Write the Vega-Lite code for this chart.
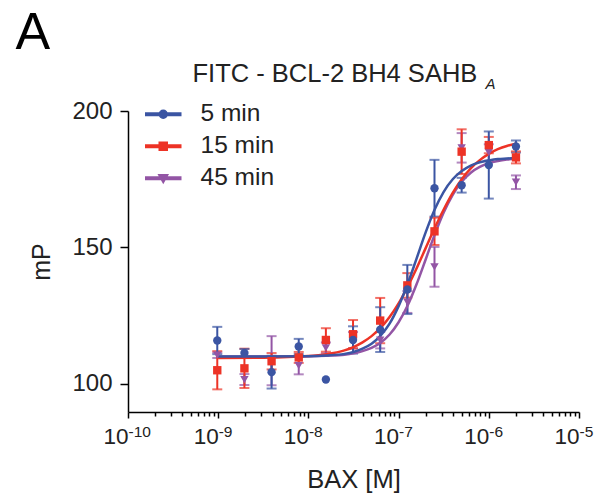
{
  "$schema": "https://vega.github.io/schema/vega-lite/v6.json",
  "autosize": {"type": "none"},
  "padding": {"left": 128, "top": 111, "right": 23, "bottom": 88},
  "width": 451,
  "height": 301,
  "background": "white",
  "datasets": {
    "curves": [
      {"series": "45 min", "conc": 1e-9, "mP": 110.0},
      {"series": "45 min", "conc": 3.162e-9, "mP": 110.0},
      {"series": "45 min", "conc": 1e-8, "mP": 110.1},
      {"series": "45 min", "conc": 1.585e-8, "mP": 110.3},
      {"series": "45 min", "conc": 2.512e-8, "mP": 110.7},
      {"series": "45 min", "conc": 3.162e-8, "mP": 111.2},
      {"series": "45 min", "conc": 3.981e-8, "mP": 112.0},
      {"series": "45 min", "conc": 5.012e-8, "mP": 113.2},
      {"series": "45 min", "conc": 6.31e-8, "mP": 115.1},
      {"series": "45 min", "conc": 7.943e-8, "mP": 118.1},
      {"series": "45 min", "conc": 1e-7, "mP": 122.6},
      {"series": "45 min", "conc": 1.259e-7, "mP": 128.7},
      {"series": "45 min", "conc": 1.585e-7, "mP": 136.6},
      {"series": "45 min", "conc": 1.995e-7, "mP": 145.6},
      {"series": "45 min", "conc": 2.512e-7, "mP": 154.7},
      {"series": "45 min", "conc": 3.162e-7, "mP": 162.8},
      {"series": "45 min", "conc": 3.981e-7, "mP": 169.3},
      {"series": "45 min", "conc": 5.012e-7, "mP": 174.1},
      {"series": "45 min", "conc": 6.31e-7, "mP": 177.4},
      {"series": "45 min", "conc": 7.943e-7, "mP": 179.5},
      {"series": "45 min", "conc": 1e-6, "mP": 180.9},
      {"series": "45 min", "conc": 1.259e-6, "mP": 181.7},
      {"series": "45 min", "conc": 1.585e-6, "mP": 182.2},
      {"series": "45 min", "conc": 1.995e-6, "mP": 182.5},
      {"series": "15 min", "conc": 1e-9, "mP": 109.5},
      {"series": "15 min", "conc": 3.162e-9, "mP": 109.6},
      {"series": "15 min", "conc": 1e-8, "mP": 110.2},
      {"series": "15 min", "conc": 1.585e-8, "mP": 110.9},
      {"series": "15 min", "conc": 2.512e-8, "mP": 112.3},
      {"series": "15 min", "conc": 3.162e-8, "mP": 113.5},
      {"series": "15 min", "conc": 3.981e-8, "mP": 115.2},
      {"series": "15 min", "conc": 5.012e-8, "mP": 117.5},
      {"series": "15 min", "conc": 6.31e-8, "mP": 120.5},
      {"series": "15 min", "conc": 7.943e-8, "mP": 124.5},
      {"series": "15 min", "conc": 1e-7, "mP": 129.5},
      {"series": "15 min", "conc": 1.259e-7, "mP": 135.6},
      {"series": "15 min", "conc": 1.585e-7, "mP": 142.4},
      {"series": "15 min", "conc": 1.995e-7, "mP": 149.75},
      {"series": "15 min", "conc": 2.512e-7, "mP": 157.1},
      {"series": "15 min", "conc": 3.162e-7, "mP": 163.9},
      {"series": "15 min", "conc": 3.981e-7, "mP": 170.0},
      {"series": "15 min", "conc": 5.012e-7, "mP": 175.0},
      {"series": "15 min", "conc": 6.31e-7, "mP": 179.0},
      {"series": "15 min", "conc": 7.943e-7, "mP": 182.0},
      {"series": "15 min", "conc": 1e-6, "mP": 184.3},
      {"series": "15 min", "conc": 1.259e-6, "mP": 186.0},
      {"series": "15 min", "conc": 1.585e-6, "mP": 187.2},
      {"series": "15 min", "conc": 1.995e-6, "mP": 188.0},
      {"series": "5 min", "conc": 1e-9, "mP": 110.0},
      {"series": "5 min", "conc": 3.162e-9, "mP": 110.0},
      {"series": "5 min", "conc": 1e-8, "mP": 110.1},
      {"series": "5 min", "conc": 1.585e-8, "mP": 110.4},
      {"series": "5 min", "conc": 2.512e-8, "mP": 111.0},
      {"series": "5 min", "conc": 3.162e-8, "mP": 111.7},
      {"series": "5 min", "conc": 3.981e-8, "mP": 112.9},
      {"series": "5 min", "conc": 5.012e-8, "mP": 114.7},
      {"series": "5 min", "conc": 6.31e-8, "mP": 117.7},
      {"series": "5 min", "conc": 7.943e-8, "mP": 122.1},
      {"series": "5 min", "conc": 1e-7, "mP": 128.5},
      {"series": "5 min", "conc": 1.259e-7, "mP": 136.6},
      {"series": "5 min", "conc": 1.585e-7, "mP": 146.0},
      {"series": "5 min", "conc": 1.995e-7, "mP": 155.5},
      {"series": "5 min", "conc": 2.512e-7, "mP": 163.9},
      {"series": "5 min", "conc": 3.162e-7, "mP": 170.4},
      {"series": "5 min", "conc": 3.981e-7, "mP": 175.0},
      {"series": "5 min", "conc": 5.012e-7, "mP": 178.0},
      {"series": "5 min", "conc": 6.31e-7, "mP": 180.0},
      {"series": "5 min", "conc": 7.943e-7, "mP": 181.2},
      {"series": "5 min", "conc": 1e-6, "mP": 181.9},
      {"series": "5 min", "conc": 1.259e-6, "mP": 182.4},
      {"series": "5 min", "conc": 1.585e-6, "mP": 182.6},
      {"series": "5 min", "conc": 1.995e-6, "mP": 182.8}
    ],
    "points": [
      {"series": "45 min", "conc": 9.765625e-10, "mP": 110.5, "err": 1},
      {"series": "45 min", "conc": 1.953125e-9, "mP": 101.6, "err": 2},
      {"series": "45 min", "conc": 3.90625e-9, "mP": 108.5, "err": 9},
      {"series": "45 min", "conc": 7.8125e-9, "mP": 106.7, "err": 3.2},
      {"series": "45 min", "conc": 1.5625e-8, "mP": 113.2, "err": 2},
      {"series": "45 min", "conc": 3.125e-8, "mP": 116, "err": 3},
      {"series": "45 min", "conc": 6.25e-8, "mP": 116, "err": 3},
      {"series": "45 min", "conc": 1.25e-7, "mP": 130, "err": 4},
      {"series": "45 min", "conc": 2.5e-7, "mP": 142.9, "err": 7.3},
      {"series": "45 min", "conc": 5e-7, "mP": 186.5, "err": 5.4},
      {"series": "45 min", "conc": 1e-6, "mP": 184.8, "err": 3},
      {"series": "45 min", "conc": 2e-6, "mP": 173.9, "err": 2.5},
      {"series": "15 min", "conc": 9.765625e-10, "mP": 105.0, "err": 7},
      {"series": "15 min", "conc": 1.953125e-9, "mP": 105.7, "err": 7.2},
      {"series": "15 min", "conc": 3.90625e-9, "mP": 108.3, "err": 3},
      {"series": "15 min", "conc": 7.8125e-9, "mP": 109.7, "err": 2},
      {"series": "15 min", "conc": 1.5625e-8, "mP": 116.1, "err": 4.3},
      {"series": "15 min", "conc": 3.125e-8, "mP": 118.2, "err": 5.2},
      {"series": "15 min", "conc": 6.25e-8, "mP": 123.2, "err": 8.3},
      {"series": "15 min", "conc": 1.25e-7, "mP": 136.1, "err": 4.5},
      {"series": "15 min", "conc": 2.5e-7, "mP": 155.9, "err": 5},
      {"series": "15 min", "conc": 5e-7, "mP": 185.1, "err": 8.2},
      {"series": "15 min", "conc": 1e-6, "mP": 187.5, "err": 3},
      {"series": "15 min", "conc": 2e-6, "mP": 183.0, "err": 2.2},
      {"series": "5 min", "conc": 9.765625e-10, "mP": 115.9, "err": 5},
      {"series": "5 min", "conc": 1.953125e-9, "mP": 111.3, "err": 1.5},
      {"series": "5 min", "conc": 3.90625e-9, "mP": 104.3, "err": 6},
      {"series": "5 min", "conc": 7.8125e-9, "mP": 113.7, "err": 2.8},
      {"series": "5 min", "conc": 1.5625e-8, "mP": 101.6, "err": 0},
      {"series": "5 min", "conc": 3.125e-8, "mP": 116.1, "err": 5},
      {"series": "5 min", "conc": 6.25e-8, "mP": 119.9, "err": 8.2},
      {"series": "5 min", "conc": 1.25e-7, "mP": 134.6, "err": 9},
      {"series": "5 min", "conc": 2.5e-7, "mP": 171.7, "err": 10.4},
      {"series": "5 min", "conc": 5e-7, "mP": 172.8, "err": 2.7},
      {"series": "5 min", "conc": 1e-6, "mP": 180.2, "err": 12.3},
      {"series": "5 min", "conc": 2e-6, "mP": 187.0, "err": 2.2}
    ]
  },
  "resolve": {"axis": {"x": "independent", "y": "independent"}},
  "layer": [
    {
      "data": {"name": "points"},
      "transform": [{"filter": "datum.err > 0"}],
      "mark": {"type": "errorbar", "ticks": {"size": 10, "thickness": 2}, "thickness": 2},
      "encoding": {
        "x": {
          "field": "conc", "type": "quantitative",
          "scale": {"type": "log", "domain": [1e-10, 1e-5], "nice": false},
          "axis": {
            "orient": "bottom",
            "values": [2e-10,3e-10,4e-10,5e-10,6e-10,7e-10,8e-10,9e-10,2e-9,3e-9,4e-9,5e-9,6e-9,7e-9,8e-9,9e-9,2e-8,3e-8,4e-8,5e-8,6e-8,7e-8,8e-8,9e-8,2e-7,3e-7,4e-7,5e-7,6e-7,7e-7,8e-7,9e-7,2e-6,3e-6,4e-6,5e-6,6e-6,7e-6,8e-6,9e-6],
            "labels": false, "domain": false, "tickSize": 4, "title": null, "grid": false
          }
        },
        "y": {
          "field": "mP", "type": "quantitative",
          "scale": {"domain": [89.7, 200], "nice": false, "zero": false},
          "axis": {"orient": "left", "values": [100, 150, 200], "tickSize": 8, "labelPadding": 8, "labelFontSize": 24, "title": "mP", "titleFontSize": 25, "titlePadding": 17}
        },
        "yError": {"field": "err"},
        "color": {
          "field": "series", "type": "nominal",
          "scale": {"domain": ["5 min", "15 min", "45 min"], "range": ["#3b55a3", "#ed3326", "#9355a5"]}
        }
      }
    },
    {
      "data": {"name": "curves"},
      "mark": {"type": "line", "interpolate": "monotone", "strokeWidth": 2.5},
      "encoding": {
        "x": {
          "field": "conc", "type": "quantitative",
          "axis": {
            "orient": "bottom",
            "values": [1e-10, 1e-9, 1e-8, 1e-7, 1e-6, 1e-5],
            "labelExpr": "'10'",
            "labelAlign": "right", "labelBaseline": "alphabetic", "labelPadding": 25, "labelDx": -1,
            "labelFlush": false, "labelOverlap": false, "labelBound": false,
            "labelFontSize": 22.5, "tickSize": 6, "grid": false,
            "title": "BAX [M]", "titleFontSize": 25.5, "titlePadding": 20
          }
        },
        "y": {
          "field": "mP", "type": "quantitative",
          "axis": {"orient": "left", "domain": false, "ticks": false, "labels": false, "grid": false,
            "title": "A", "titleFontSize": 52, "titleColor": "#000", "titleAngle": 0, "titleAlign": "left", "titleBaseline": "alphabetic",
            "titleX": -113, "titleY": -63}
        },
        "color": {"field": "series", "type": "nominal"}
      }
    },
    {
      "data": {"name": "points"},
      "transform": [{"filter": "datum.series === '45 min'"}],
      "mark": {"type": "point", "shape": "triangle-down", "filled": true, "size": 70, "opacity": 1},
      "encoding": {
        "x": {
          "field": "conc", "type": "quantitative",
          "axis": {
            "orient": "bottom",
            "values": [1e-10, 1e-9, 1e-8, 1e-7, 1e-6, 1e-5],
            "labelExpr": "'-' + format(-round(log(datum.value) / LN10), 'd')",
            "labelAlign": "left", "labelBaseline": "alphabetic", "labelPadding": 24, "labelDx": 1,
            "labelFlush": false, "labelOverlap": false, "labelBound": false,
            "labelFontSize": 15.5, "ticks": false, "tickSize": 0, "domain": false, "grid": false,
            "title": "FITC - BCL-2 BH4 SAHB", "titleFontSize": 25.5, "titleAngle": 0, "titleAlign": "left", "titleBaseline": "alphabetic",
            "titleX": 64, "titleY": -331
          }
        },
        "y": {
          "field": "mP", "type": "quantitative",
          "axis": {"orient": "left", "domain": false, "ticks": false, "labels": false, "grid": false,
            "title": "A", "titleFontSize": 15, "titleFontStyle": "italic", "titleAngle": 0, "titleAlign": "left", "titleBaseline": "alphabetic",
            "titleX": 357, "titleY": -23}
        },
        "color": {"field": "series", "type": "nominal"}
      }
    },
    {
      "data": {"name": "points"},
      "transform": [{"filter": "datum.series === '15 min'"}],
      "mark": {"type": "point", "shape": "square", "filled": true, "size": 70, "opacity": 1},
      "encoding": {
        "x": {"field": "conc", "type": "quantitative", "axis": null},
        "y": {"field": "mP", "type": "quantitative", "axis": null},
        "color": {"field": "series", "type": "nominal"}
      }
    },
    {
      "data": {"name": "points"},
      "transform": [{"filter": "datum.series === '5 min'"}],
      "mark": {"type": "point", "shape": "circle", "filled": true, "size": 70, "opacity": 1},
      "encoding": {
        "x": {"field": "conc", "type": "quantitative", "axis": null},
        "y": {"field": "mP", "type": "quantitative", "axis": null},
        "color": {"field": "series", "type": "nominal"}
      }
    },
    {
      "data": {"name": "points"},
      "mark": {"type": "point", "filled": true, "size": 100, "opacity": 0},
      "encoding": {
        "x": {"field": "conc", "type": "quantitative", "axis": null},
        "y": {"field": "mP", "type": "quantitative", "axis": null},
        "color": {"field": "series", "type": "nominal"},
        "shape": {
          "field": "series", "type": "nominal",
          "scale": {
            "domain": ["5 min", "15 min", "45 min"],
            "range": [
              "M-3.5,-0.25H3.5V0.25H-3.5Z M0.8,0A0.8,0.8,0,1,1,-0.8,0A0.8,0.8,0,1,1,0.8,0Z",
              "M-3.5,-0.25H3.5V0.25H-3.5Z M-0.8,-0.8H0.8V0.8H-0.8Z",
              "M-3.5,-0.25H3.5V0.25H-3.5Z M-0.9,-0.7H0.9L0,0.9Z"
            ]
          },
          "legend": {
            "title": null, "orient": "none", "legendX": 23, "legendY": -9,
            "labelFontSize": 24.5, "labelFont": "Liberation Sans", "labelColor": "#222",
            "labelOffset": 25, "rowPadding": 7, "symbolSize": 100, "symbolOpacity": 1, "padding": 0
          }
        }
      }
    }
  ],
  "config": {
    "view": {"stroke": null},
    "font": "Liberation Sans",
    "legend": {"symbolOpacity": 1},
    "axis": {
      "grid": false, "domainColor": "#000", "tickColor": "#000", "labelColor": "#222", "titleColor": "#222",
      "labelFont": "Liberation Sans", "titleFont": "Liberation Sans", "titleFontWeight": "normal",
      "domainWidth": 1.5, "tickWidth": 1.5
    }
  }
}
